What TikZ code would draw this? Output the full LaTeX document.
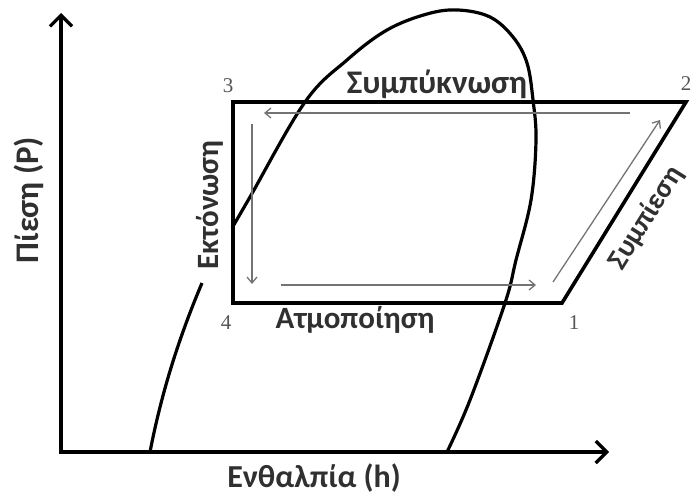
\documentclass[tikz,border=0pt]{standalone}
\usepackage{fontspec}
\setmainfont{Carlito}
\newfontfamily\numfont{Liberation Serif}
\usetikzlibrary{arrows.meta}
\definecolor{txt}{HTML}{303030}
\definecolor{numc}{HTML}{555555}
\tikzset{
  axis/.style={line width=3.2pt, line cap=butt, {Straight Barb[length=11pt,width=22pt]}-{Straight Barb[length=11pt,width=22pt]}},
  cyc/.style={line width=3.6pt, line join=miter},
  dome/.style={line width=3.2pt},
  flow/.style={line width=1.3pt, draw=black!55, -{Straight Barb[length=6pt,width=10pt]}},
  lab/.style={font=\bfseries, text=txt, inner sep=0pt},
  num/.style={font=\numfont\fontsize{21}{22}\selectfont, text=numc, inner sep=0pt}
}
\begin{document}
\begin{tikzpicture}[x=1pt,y=-1pt]
\useasboundingbox (0,0) rectangle (692,495);
% axes
\coordinate (O) at (61,452);
\coordinate (ytop) at (61,13);
\coordinate (xend) at (609,452);
\draw[axis] (ytop) -- (O) -- (xend);
% saturation dome
\draw[dome] (150,452) .. controls (162,390) and (180,335) .. (202,283);
\draw[dome] plot[smooth, tension=0.6] coordinates {(232,228) (250,197) (305,102) (347,60) (387,30) (427,14) (458,10) (490,17) (513,37) (527,63) (533,100) (536,140) (531,200) (516,260) (505,303) (470,400) (447,452)};
% cycle
\coordinate (p3) at (233,102);
\coordinate (p2) at (686,102);
\coordinate (p1) at (562,303);
\coordinate (p4) at (233,303);
\draw[cyc] (p3) -- (p2) -- (p1) -- (p4) -- cycle;
% flow arrows
\coordinate (a1) at (630,113); \coordinate (a2) at (264,113);
\coordinate (b1) at (252,124); \coordinate (b2) at (252,284);
\coordinate (c1) at (281,285); \coordinate (c2) at (536,285);
\coordinate (d1) at (553,282); \coordinate (d2) at (660,120);
\draw[flow] (a1) -- (a2);
\draw[flow] (b1) -- (b2);
\draw[flow] (c1) -- (c2);
\draw[flow] (d1) -- (d2);
% labels
\node[lab, anchor=base, font=\bfseries\fontsize{33}{34}\selectfont] (cond) at (437,93) {Συμπύκνωση};
\node[lab, anchor=base, font=\bfseries\fontsize{31}{32}\selectfont] (evap) at (355,328) {Ατμοποίηση};
\node[lab, anchor=base, rotate=90, font=\bfseries\fontsize{31}{32}\selectfont] (exp) at (218,205) {Εκτόνωση};
\node[lab, rotate=58, font=\bfseries\fontsize{29}{30}\selectfont] (comp) at (646,218) {Συμπίεση};
\node[lab, anchor=base, rotate=90, font=\bfseries\fontsize{33}{34}\selectfont] (ylab) at (38,200) {Πίεση (P)};
\node[lab, anchor=base, font=\bfseries\fontsize{32}{33}\selectfont] (xlab) at (314,487) {Ενθαλπία (h)};
% numbers
\node[num] (n3) at (228,86) {3};
\node[num] (n2) at (686,84) {2};
\node[num] (n4) at (226,323) {4};
\node[num] (n1) at (574,323) {1};
\end{tikzpicture}
\end{document}
